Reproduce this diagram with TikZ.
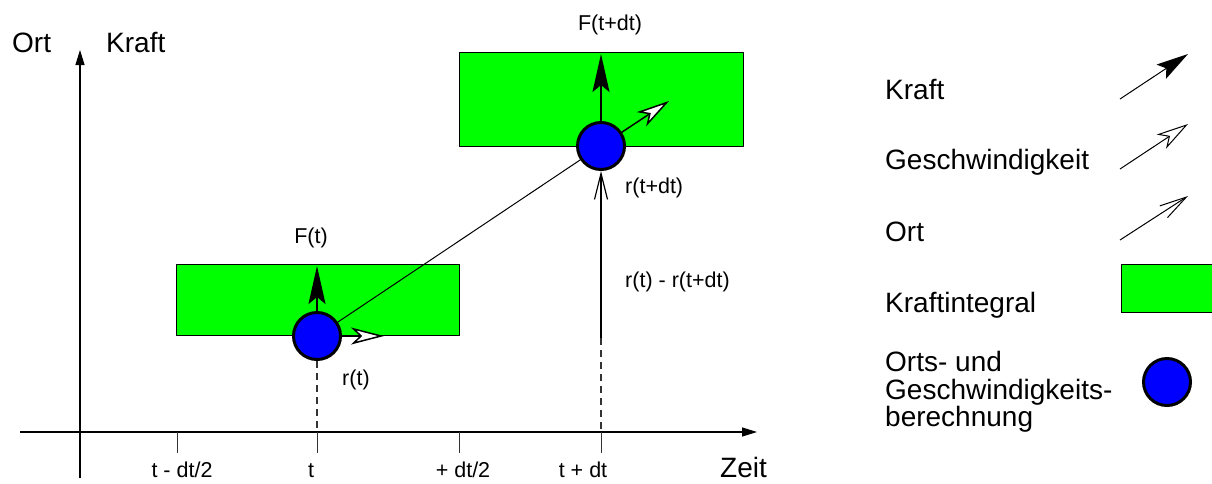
\documentclass[tikz,border=0pt]{standalone}
\usepackage{fontspec}
\setmainfont{Liberation Sans}
\usetikzlibrary{arrows.meta}
\definecolor{kgreen}{RGB}{0,255,0}
\definecolor{kblue}{RGB}{0,0,255}
\begin{document}
\begin{tikzpicture}[x=1pt,y=-1pt,
 big/.style={font=\fontsize{28}{27.5}\selectfont, inner sep=0pt, anchor=base west},
 small/.style={font=\fontsize{21.5}{24}\selectfont, inner sep=0pt, anchor=base},
 integ/.style={draw=black, line width=1pt, fill=kgreen, inner sep=0pt},
 calc/.style={circle, draw=black, line width=3pt, fill=kblue, minimum size=47pt, inner sep=0pt},
 force/.style={line width=2pt, -{Stealth[length=38pt, width=17pt, inset=7pt]}},
 veloc/.style={line width=1.5pt, -{Stealth[length=33pt, width=17pt, inset=9pt, fill=white]}},
 posi/.style={line width=1.2pt, -{Straight Barb[length=26pt, width=13pt]}},
 axis/.style={line width=1.2pt, -{Triangle[length=15pt, width=9pt]}},
 tick/.style={line width=1pt, draw=black!80},
 guide/.style={line width=1.2pt, draw=black!80, dash pattern=on 7pt off 5pt},
 legforce/.style={line width=1pt, -{Stealth[length=32pt, width=17pt, inset=6pt]}},
 legveloc/.style={line width=1pt, -{Stealth[length=32pt, width=17pt, inset=9pt, fill=white]}},
 legpos/.style={line width=1pt, -{Straight Barb[length=27pt, width=14pt]}},
]
\useasboundingbox (0,0) rectangle (1212,483);
\clip (0,0) rectangle (1212,483);

% axes
\coordinate (yb) at (80,478);
\coordinate (yt) at (80,50);
\draw[axis] (yb) -- (yt);
\coordinate (xl) at (20,432);
\coordinate (xr) at (757,432);
\draw[axis] (xl) -- (xr);
\foreach \x/\n in {177/a,317/b,459/c,601/d}{
  \coordinate (t\n) at (\x,432);
  \coordinate (tb\n) at (\x,453);
  \draw[tick] (t\n) -- (tb\n);
}

\node[big] (ort) at (12,52) {Ort};
\node[big] (kraft) at (106,52) {Kraft};
\node[big] (zeit) at (720,477) {Zeit};
\node[small] (l1) at (182,477) {t - dt/2};
\node[small] (l2) at (311,477) {t};
\node[small] (l3) at (463,477) {+ dt/2};
\node[small] (l4) at (583,477) {t + dt};

% integrals
\node[integ, minimum width=283pt, minimum height=71pt] (r1) at (317.5,299.5) {};
\node[integ, minimum width=284pt, minimum height=94pt] (r2) at (601,99) {};

% calculations
\node[calc] (c1) at (317,336) {};
\node[calc] (c2) at (601,146) {};

\draw[line width=1pt] (c1) -- (c2);
\draw[guide] (c1) -- (tb);

\coordinate (p0) at (601,338);
\draw[guide] (p0) -- (td);
\draw[posi] (p0) -- (c2);

\coordinate (f1) at (317,266);
\draw[force] (c1) -- (f1);
\coordinate (f2) at (601,54);
\draw[force] (c2) -- (f2);
\coordinate (v1) at (384,336);
\draw[veloc] (c1) -- (v1);
\coordinate (v2) at (669,101);
\draw[veloc] (c2) -- (v2);

\node[small] (ft) at (311,243) {F(t)};
\node[small] (ftdt) at (610,30) {F(t+dt)};
\node[small, anchor=base west] (rt) at (342,385) {r(t)};
\node[small, anchor=base west] (rtdt) at (625,193) {r(t+dt)};
\node[small, anchor=base west] (rdiff) at (625,287) {r(t) - r(t+dt)};

% legend
\node[big] (lk) at (885,99) {Kraft};
\node[big] (lg) at (885,169) {Geschwindigkeit};
\node[big] (lo) at (885,241) {Ort};
\node[big] (li) at (885,312) {Kraftintegral};
\node[big, anchor=north west, align=left] (lb) at (885,351.5) {Orts- und\\Geschwindigkeits-\\berechnung};

\coordinate (ka) at (1120,99);  \coordinate (kb) at (1188,54);
\coordinate (ga) at (1120,169); \coordinate (gb) at (1188,124);
\coordinate (oa) at (1120,240); \coordinate (ob) at (1188,196);
\draw[legforce] (ka) -- (kb);
\draw[legveloc] (ga) -- (gb);
\draw[legpos] (oa) -- (ob);
\node[integ, minimum width=93pt, minimum height=48pt] (lr) at (1167.5,288) {};
\node[calc] (lc) at (1167,382) {};
\end{tikzpicture}
\end{document}
